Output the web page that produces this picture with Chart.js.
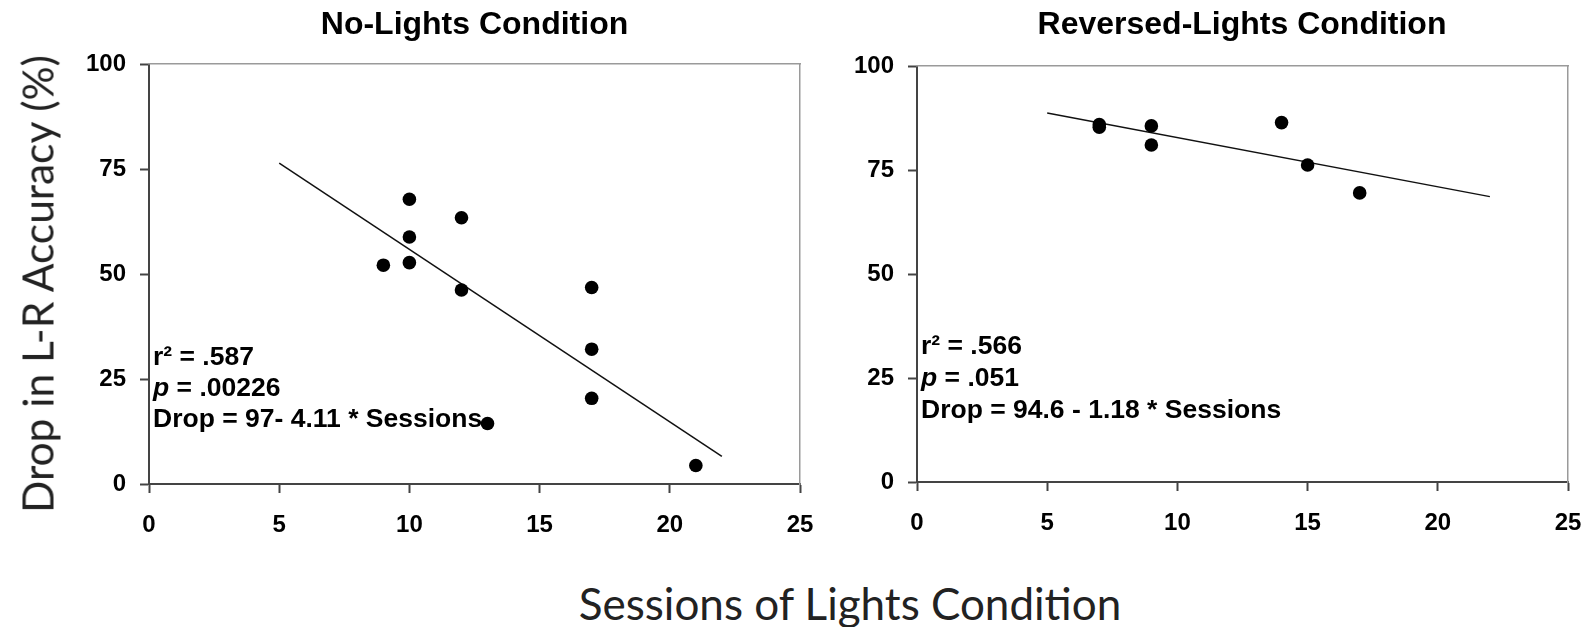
<!DOCTYPE html>
<html lang="en">
<head>
    <meta charset="UTF-8">
    <title>Drop in L-R Accuracy vs Sessions</title>
    <style>
        html, body {
            margin: 0;
            padding: 0;
            background: #fff;
            overflow: hidden;
        }
        .page {
            position: relative;
            width: 1591px;
            height: 627px;
        }
        .panel {
            position: absolute;
            top: 0;
        }
        .axis-title {
            position: absolute;
            font-family: Lato, "Open Sans", sans-serif;
            color: #222;
            white-space: nowrap;
            transform: translate(-50%, -50%);
        }
        #yTitle {
            left: 37px;
            top: 284px;
            font-size: 42.5px;
            transform: translate(-50%, -50%) rotate(-90deg);
        }
        #xTitle {
            left: 850px;
            top: 603px;
            font-size: 44px;
        }
    </style>
</head>
<body>
    <div class="page">
        <div class="panel" style="left:0px"><canvas id="noLights" width="949" height="545"></canvas></div>
        <div class="panel" style="left:840px"><canvas id="reversed" width="804" height="545"></canvas></div>
        <div class="axis-title" id="yTitle">Drop in L-R Accuracy (%)</div>
        <div class="axis-title" id="xTitle">Sessions of Lights Condition</div>
    </div>

    <script src="https://cdn.jsdelivr.net/npm/chart.js"></script>
    <script>
        // values
        const noLightsSessions = [9, 10, 10, 10, 12, 12, 13, 17, 17, 17, 21];
        const noLightsDrop = [52.1, 67.8, 58.8, 52.7, 63.4, 46.2, 14.4, 46.8, 32.1, 20.4, 4.4];
        const noLightsFitX = [5, 22];
        const noLightsFitY = [76.4, 6.6];
        const noLightsStats = ['r\u00b2 = .587', 'p = .00226', 'Drop = 97- 4.11 * Sessions'];

        const reversedSessions = [7, 7, 9, 9, 14, 15, 17];
        const reversedDrop = [85.9, 85.3, 85.6, 81.0, 86.4, 76.2, 69.5];
        const reversedFitX = [5, 22];
        const reversedFitY = [88.7, 68.6];
        const reversedStats = ['r\u00b2 = .566', 'p = .051', 'Drop = 94.6 - 1.18 * Sessions'];

        const xTicks = [0, 5, 10, 15, 20, 25];
        const yTicks = [0, 25, 50, 75, 100];

        const FONT = '"Liberation Sans", Arial, sans-serif';

        function toPoints(xs, ys) {
            return xs.map((x, i) => ({x: x, y: ys[i]}));
        }

        // writes the regression text inside the plot, p in italics
        const statsPlugin = {
            id: 'stats',
            afterDatasetsDraw(chart, args, opts) {
                const ctx = chart.ctx;
                const y0 = chart.scales.y.getPixelForValue(opts.value);
                ctx.save();
                ctx.fillStyle = '#000';
                ctx.textBaseline = 'middle';
                ctx.textAlign = 'left';
                opts.lines.forEach((line, i) => {
                    const y = y0 + i * opts.gap;
                    let x = chart.chartArea.left + opts.inset;
                    if (line.startsWith('p ')) {
                        ctx.font = 'italic bold ' + opts.size + 'px ' + FONT;
                        ctx.fillText('p', x, y);
                        x += ctx.measureText('p').width;
                        line = line.slice(1);
                    }
                    ctx.font = 'bold ' + opts.size + 'px ' + FONT;
                    ctx.fillText(line, x, y);
                });
                ctx.restore();
            }
        };

        function makeChart(id, cfg) {
            const tickFont = {family: FONT, size: 24, weight: 'bold'};
            return new Chart(document.getElementById(id), {
                type: 'scatter',
                data: {
                    datasets: [{
                        data: toPoints(cfg.xs, cfg.ys),
                        pointRadius: 6.8,
                        pointBackgroundColor: '#000',
                        pointBorderWidth: 0,
                        showLine: false
                    }, {
                        data: toPoints(cfg.fitX, cfg.fitY),
                        showLine: true,
                        pointRadius: 0,
                        borderColor: '#111',
                        borderWidth: 1.5,
                        fill: false
                    }]
                },
                plugins: [statsPlugin],
                options: {
                    responsive: false,
                    animation: false,
                    events: [],
                    layout: {padding: 0},
                    plugins: {
                        legend: {display: false},
                        tooltip: {enabled: false},
                        title: {
                            display: true,
                            text: cfg.title,
                            color: '#000',
                            font: {family: FONT, size: 32, weight: 'bold'},
                            padding: {top: 5.8, bottom: cfg.titleGap}
                        },
                        stats: {lines: cfg.stats, value: cfg.statsAt, gap: cfg.statsGap, inset: 4, size: 26.5}
                    },
                    scales: {
                        x: {
                            type: 'linear',
                            position: 'bottom',
                            min: 0,
                            max: 25,
                            afterBuildTicks: s => { s.ticks = xTicks.map(v => ({value: v})); },
                            ticks: {font: tickFont, color: '#000', padding: 18, maxRotation: 0},
                            grid: {drawOnChartArea: false, tickLength: 9, tickColor: '#444', tickWidth: 2},
                            border: {color: '#444', width: 2},
                            afterFit: s => { s.height = cfg.xHeight; }
                        },
                        y: {
                            type: 'linear',
                            position: 'left',
                            min: 0,
                            max: 100,
                            afterBuildTicks: s => { s.ticks = yTicks.map(v => ({value: v})); },
                            ticks: {font: tickFont, color: '#000', padding: 14},
                            grid: {drawOnChartArea: false, tickLength: 9, tickColor: '#444', tickWidth: 2},
                            border: {color: '#444', width: 2},
                            afterFit: s => { s.width = cfg.yWidth; }
                        },
                        x2: {
                            type: 'linear',
                            position: 'top',
                            min: 0,
                            max: 25,
                            ticks: {display: false},
                            grid: {display: false},
                            border: {color: '#9a9a9a', width: 1.5},
                            afterFit: s => { s.height = 0; }
                        },
                        y2: {
                            type: 'linear',
                            position: 'right',
                            min: 0,
                            max: 100,
                            ticks: {display: false},
                            grid: {display: false},
                            border: {color: '#9a9a9a', width: 1.5},
                            // empty strip right of the frame keeps the title centred on the plot
                            afterFit: s => { s.width = cfg.rightStrip; }
                        }
                    }
                }
            });
        }

        makeChart('noLights', {
            title: 'No-Lights Condition',
            xs: noLightsSessions, ys: noLightsDrop,
            fitX: noLightsFitX, fitY: noLightsFitY,
            stats: noLightsStats, statsAt: 30, statsGap: 31,
            rightStrip: 149, titleGap: 19.8, xHeight: 61, yWidth: 149
        });

        makeChart('reversed', {
            title: 'Reversed-Lights Condition',
            xs: reversedSessions, ys: reversedDrop,
            fitX: reversedFitX, fitY: reversedFitY,
            stats: reversedStats, statsAt: 32.5, statsGap: 32,
            rightStrip: 76, titleGap: 21.8, xHeight: 63, yWidth: 77
        });
    </script>
</body>
</html>
